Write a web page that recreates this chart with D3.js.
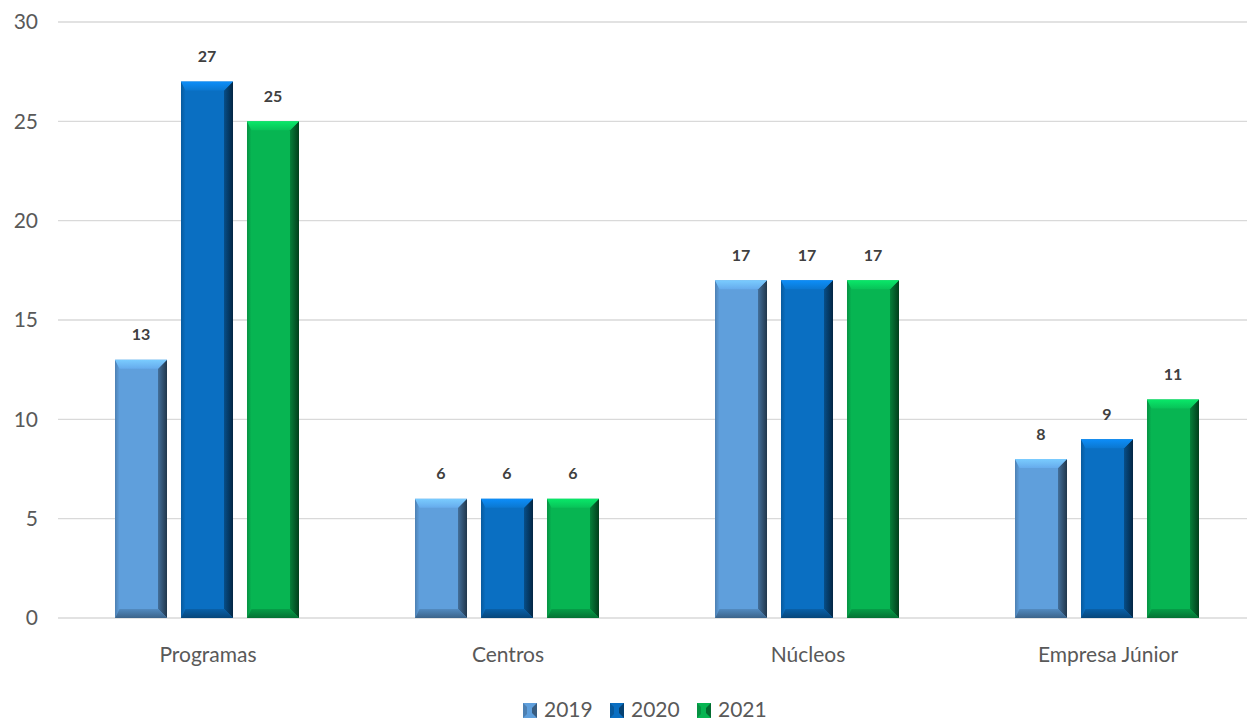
<!DOCTYPE html>
<html><head><meta charset="utf-8">
<script src="https://cdn.jsdelivr.net/npm/d3@7"></script>
<style>body{margin:0;background:#fff;}svg{display:block;font-family:Lato,"Open Sans",sans-serif;}</style>
</head><body>
<svg id="c" width="1247" height="725"></svg>
<script>
const categories = ["Programas","Centros","Núcleos","Empresa Júnior"];
const years = ["2019","2020","2021"];
const values2019 = [13,6,17,8];
const values2020 = [27,6,17,9];
const values2021 = [25,6,17,11];
const yTicks = [0,5,10,15,20,25,30];
const colors = {"2019":"#5f9fdc","2020":"#0a6fc2","2021":"#07b552"};
const series = {"2019":values2019,"2020":values2020,"2021":values2021};

const svg = d3.select("#c");
const x0 = d3.scaleBand().domain(categories).range([58,1258]);
const x1 = d3.scaleBand().domain(years).range([57,241]).paddingInner(0.212).paddingOuter(0);
const y = d3.scaleLinear().domain([0,30]).range([618,22]);

// grid
svg.append("g").selectAll("line").data(yTicks).join("line")
  .attr("x1",58).attr("x2",1247).attr("y1",d=>y(d)).attr("y2",d=>y(d))
  .attr("stroke","#d9d9d9").attr("stroke-width",1.3);
svg.append("g").selectAll("text").data(yTicks).join("text")
  .attr("x",38).attr("y",d=>y(d)).attr("dy","0.35em").attr("text-anchor","end")
  .attr("font-size",21).attr("fill","#595959").text(d=>d);

const defs = svg.append("defs");
function shade(c,k){return d3.color(c).darker(k).formatHex();}
function light(c,k){return d3.color(c).brighter(k).formatHex();}
years.forEach(yr=>{
  const c = colors[yr];
  const g = defs.append("linearGradient").attr("id","side"+yr).attr("x1",0).attr("x2",1).attr("y1",0).attr("y2",0);
  g.append("stop").attr("offset",0).attr("stop-color",shade(c,1.0));
  g.append("stop").attr("offset",1).attr("stop-color",shade(c,3));
  const gl = defs.append("linearGradient").attr("id","lside"+yr).attr("x1",0).attr("x2",1).attr("y1",0).attr("y2",0);
  gl.append("stop").attr("offset",0).attr("stop-color",shade(c,0.6));
  gl.append("stop").attr("offset",1).attr("stop-color",c);
  const gt = defs.append("linearGradient").attr("id","top"+yr).attr("x1",0).attr("x2",0).attr("y1",0).attr("y2",1);
  gt.append("stop").attr("offset",0).attr("stop-color",light(c,0.7));
  gt.append("stop").attr("offset",1).attr("stop-color",light(c,0.2));
  const gb = defs.append("linearGradient").attr("id","bot"+yr).attr("x1",0).attr("x2",0).attr("y1",0).attr("y2",1);
  gb.append("stop").attr("offset",0).attr("stop-color",shade(c,0.4));
  gb.append("stop").attr("offset",1).attr("stop-color",shade(c,1.3));
});

const data = [];
categories.forEach((cat,i)=>years.forEach(yr=>data.push({cat,yr,v:series[yr][i]})));
const bv = 9;
const bars = svg.append("g").selectAll("g").data(data).join("g")
  .attr("transform",d=>`translate(${x0(d.cat)+x1(d.yr)},0)`);
const w = x1.bandwidth();
bars.each(function(d){
  const g = d3.select(this);
  const t = y(d.v), b = y(0), c = colors[d.yr];
  g.append("rect").attr("x",0).attr("y",t).attr("width",w).attr("height",b-t).attr("fill",c);
  g.append("path").attr("d",`M0,${t}L${bv*0.5},${t+bv}L${bv*0.5},${b-bv}L0,${b}Z`).attr("fill",`url(#lside${d.yr})`);
  g.append("path").attr("d",`M${w},${t}L${w-bv},${t+bv}L${w-bv},${b-bv}L${w},${b}Z`).attr("fill",`url(#side${d.yr})`);
  g.append("path").attr("d",`M0,${t}L${w},${t}L${w-bv},${t+bv}L${bv*0.5},${t+bv}Z`).attr("fill",`url(#top${d.yr})`);
  g.append("path").attr("d",`M0,${b}L${w},${b}L${w-bv},${b-bv}L${bv*0.5},${b-bv}Z`).attr("fill",`url(#bot${d.yr})`);
  g.append("text").attr("x",w/2).attr("y",t-25).attr("dy","0.35em").attr("text-anchor","middle")
    .attr("font-size",16).attr("font-weight","bold").attr("fill","#404040").text(d.v);
});

svg.append("g").selectAll("text").data(categories).join("text")
  .attr("x",d=>x0(d)+x0.bandwidth()/2).attr("y",655).attr("dy","0.35em").attr("text-anchor","middle")
  .attr("font-size",21).attr("fill","#595959").text(d=>d);

const legX = [530,617,704];
const lg = svg.append("g").selectAll("g").data(years).join("g")
  .attr("transform",(d,i)=>`translate(${legX[i]},710)`);
lg.each(function(yr){
  const g = d3.select(this), c=colors[yr];
  g.append("rect").attr("x",-7).attr("y",-7).attr("width",14).attr("height",15).attr("fill",c);
  g.append("path").attr("d",`M7,-7L2,-2L2,3L7,8Z`).attr("fill",shade(c,1.5));
  g.append("path").attr("d",`M-7,-7L-3,-3L-3,4L-7,8Z`).attr("fill",shade(c,0.6));
  g.append("text").attr("x",14).attr("y",0).attr("dy","0.35em").attr("font-size",21).attr("fill","#595959").text(yr);
});
</script>
</body></html>
